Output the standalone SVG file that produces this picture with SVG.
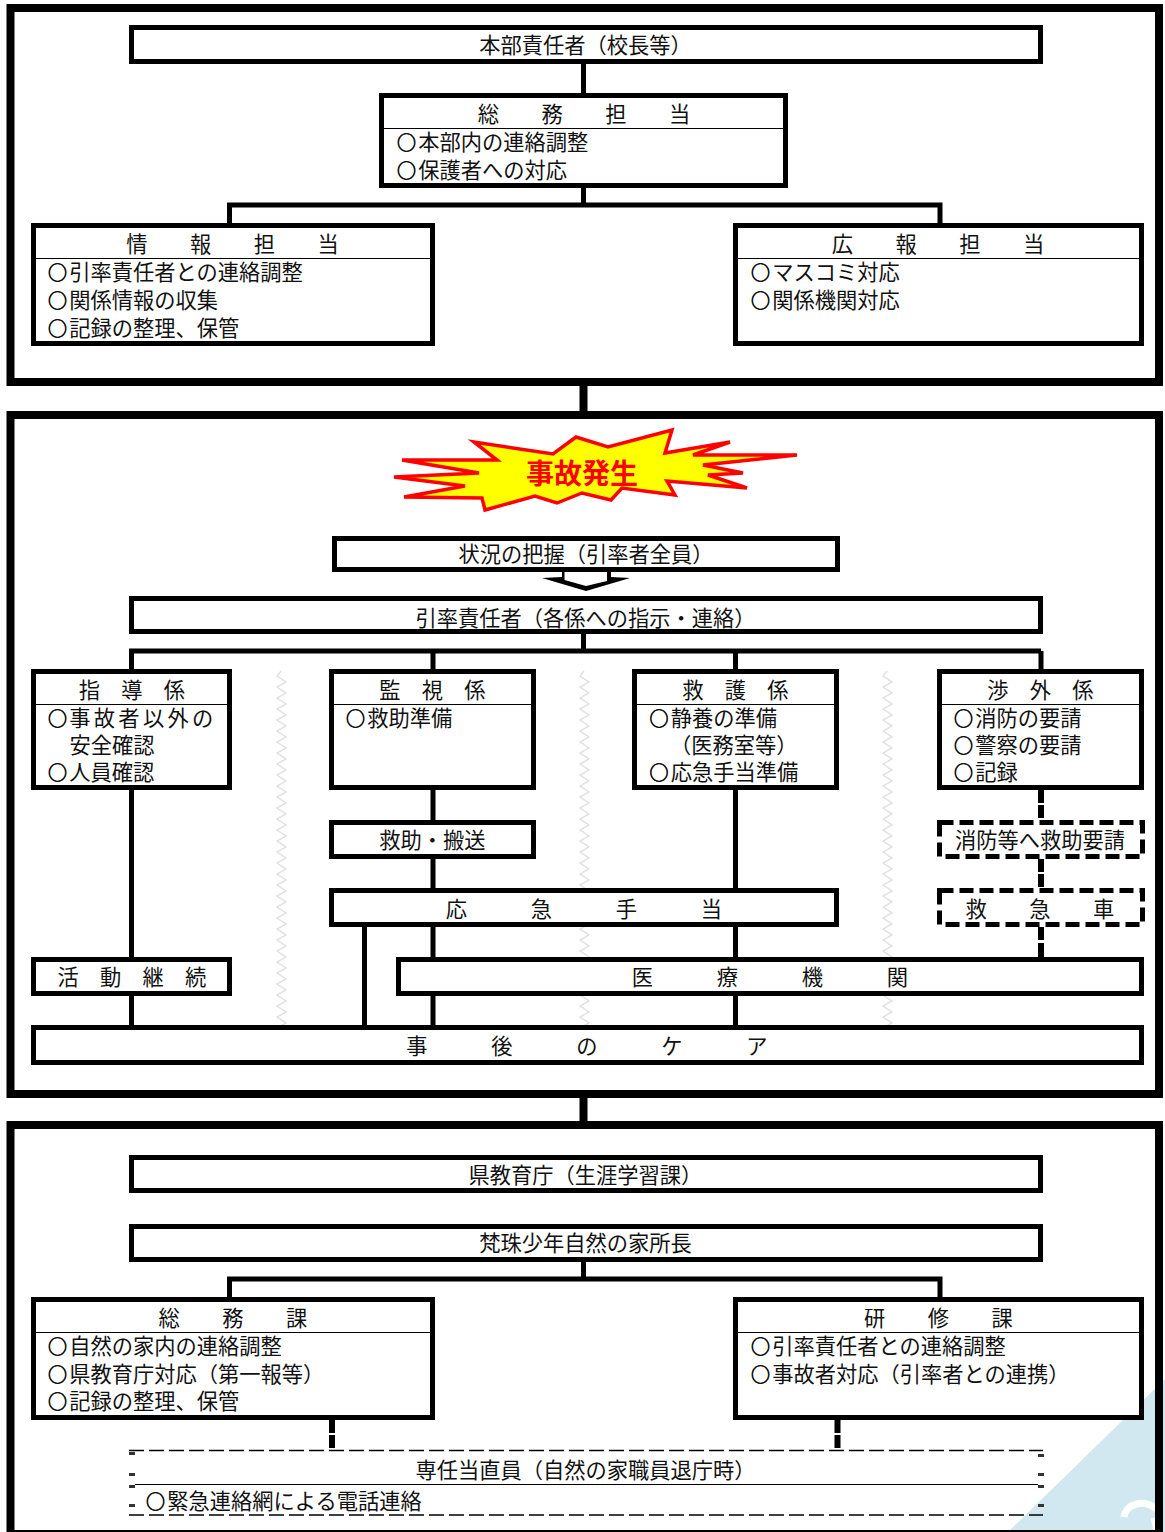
<svg xmlns="http://www.w3.org/2000/svg" width="1165" height="1532" viewBox="0 0 1165 1532">
<style>
text{font-family:"Noto Sans CJK JP","Noto Sans CJK SC",sans-serif;font-size:21.25px;fill:#111}
.m{text-anchor:middle}
.o{font-size:19px;letter-spacing:2.25px;stroke:#111;stroke-width:.7}
.f{fill:none;stroke:#000;stroke-width:8}
.b{fill:#fff;stroke:#000;stroke-width:5}
.d{fill:#fff;stroke:#000;stroke-width:5;stroke-dasharray:14 6}
.h{stroke:#000;stroke-width:1.2}
.c{fill:none;stroke:#000;stroke-width:5}
.cd{fill:none;stroke:#000;stroke-width:6;stroke-dasharray:13 2}
.z{fill:none;stroke:#e2e2e2;stroke-width:1.5}
.t{fill:none;stroke:#000;stroke-width:1.6;stroke-dasharray:15 5}
.k{fill:#333}
</style>
<defs>
<clipPath id="zc"><rect x="270" y="670" width="630" height="355"/></clipPath>
<path id="zz" class="z" d="M0 0l-4 5 9 6-9 5 9 6-9 5 9 6-9 5 9 6-9 5 9 6-9 5 9 6-9 5 9 6-9 5 9 6-9 5 9 6-9 5 9 6-9 5 9 6-9 5 9 6-9 5 9 6-9 5 9 6-9 5 9 6-9 5 9 6-9 5 9 6-9 5 9 6-9 5 9 6-9 5 9 6-9 5 9 6-9 5 9 6-9 5 9 6-9 5 9 6-9 5 9 6-9 5 9 6-9 5 9 6-9 5 9 6-9 5 9 6-9 5 9 6-9 5 9 6-9 5 9 6-9 5 9 6-9 5 9 6-9 5 9 6-9 5 9 6-9 5 9 6-9 5"/>
</defs>
<rect width="1165" height="1532" fill="#fff"/>
<g id="background">
<polygon points="1165,1379 1165,1532 1008,1532" fill="#d1e8f0"/>
<path d="M1124 1517C1126 1503 1145 1499 1156 1509" fill="none" stroke="#fff" stroke-width="7"/>
<path d="M1153 1518L1156 1530" fill="none" stroke="#fff" stroke-width="5"/>
<g clip-path="url(#zc)"><use href="#zz" x="281" y="671"/><use href="#zz" x="584" y="671"/><use href="#zz" x="887" y="671"/></g>
</g>
<g id="frames">
<rect class="f" x="10.5" y="8" width="1148.500" height="374"/>
<rect class="f" x="10.5" y="415" width="1148.500" height="679"/>
<rect class="f" x="10.5" y="1125" width="1148.500" height="409"/>
</g>
<g id="connectors">
<path class="c" style="stroke-width:8" d="M583.500 385V412M583.500 1097V1122"/>
<path class="c" d="M583.500 62V94M583.500 186V205M229.500 225V205H940V225"/>
<path class="c" d="M583.500 632V651M131.500 671V651H1041M433 651V671M735.500 651V671M1041 651V671"/>
<path class="c" d="M131.500 788V958M131.500 994V1026M433 788V821M433 857V889M433 925V958M433 994V1026M735.500 788V889M735.500 925V958M735.500 994V1026M364.500 925V1026"/>
<path class="cd" d="M1041 790V820M1041 859V888M1041 927V942"/>
<path d="M1041 943V960" fill="none" stroke="#000" stroke-width="6"/>
<path class="c" d="M583.500 1260V1279M229.500 1299V1279H940V1299"/>
<path class="cd" d="M332 1420V1450M837.500 1420V1450"/>
</g>
<g id="n-honbu"><rect class="b" x="131.500" y="27.500" width="909" height="34"/><text class="m" x="585.500" y="53">本部責任者（校長等）</text></g>
<g id="n-somu"><rect class="b" x="381.500" y="95.500" width="404" height="90"/><path class="h" d="M384 128.500H783"/><text class="m" x="584" y="122">総　　務　　担　　当</text><text x="397" y="150"><tspan class="o">○</tspan>本部内の連絡調整</text><text x="397" y="178"><tspan class="o">○</tspan>保護者への対応</text></g>
<g id="n-joho"><rect class="b" x="33.500" y="225.500" width="399" height="118"/><path class="h" d="M36 258.500H430"/><text class="m" x="232.500" y="252">情　　報　　担　　当</text><text x="48" y="280"><tspan class="o">○</tspan>引率責任者との連絡調整</text><text x="48" y="308"><tspan class="o">○</tspan>関係情報の収集</text><text x="48" y="336"><tspan class="o">○</tspan>記録の整理、保管</text></g>
<g id="n-koho"><rect class="b" x="735.500" y="225.500" width="406" height="118"/><path class="h" d="M738 258.500H1139"/><text class="m" x="938" y="252">広　　報　　担　　当</text><text x="751" y="280"><tspan class="o">○</tspan>マスコミ対応</text><text x="751" y="308"><tspan class="o">○</tspan>関係機関対応</text></g>
<g id="n-jiko"><polygon points="394,477 479,473 402,460 497,460 474,442 553,454 576,437 608,447 672,430 665,453 730,442 693,455 797,455 703,465 743,473 708,475 747,488 667,481 675,495 622,488 611,500 582,493 557,503 535,496 485,510 482,498 404,497 465,486" fill="#ff0" stroke="#f00" stroke-width="3.500"/><text class="m" x="582" y="484" style="font-size:28px;font-weight:700;fill:#f00">事故発生</text></g>
<g id="n-jokyo"><rect class="b" x="334.500" y="538.500" width="503" height="31"/><text class="m" x="586" y="562">状況の把握（引率者全員）</text></g>
<polygon points="562,568 562,577 542,578 586,591 630,578 611,577 611,568" fill="#000"/>
<polygon points="564.500,572 564.500,580 586,586 607,581 607,572" fill="#fff"/>
<g id="n-inso"><rect class="b" x="131.500" y="598.500" width="909" height="33"/><text class="m" x="585.500" y="626">引率責任者（各係への指示・連絡）</text></g>
<g id="n-shido"><rect class="b" x="33.500" y="671.500" width="196" height="116"/><path class="h" d="M36 704.500H227"/><text class="m" x="132" y="698">指　導　係</text><text x="48" y="726" style="letter-spacing:3.300px"><tspan class="o">○</tspan>事故者以外の</text><text x="69.500" y="753">安全確認</text><text x="48" y="780"><tspan class="o">○</tspan>人員確認</text></g>
<g id="n-kanshi"><rect class="b" x="331.500" y="671.500" width="202" height="116"/><path class="h" d="M334 704.500H531"/><text class="m" x="432.500" y="698">監　視　係</text><text x="346" y="726"><tspan class="o">○</tspan>救助準備</text></g>
<g id="n-kyugo"><rect class="b" x="634.500" y="671.500" width="202" height="116"/><path class="h" d="M637 704.500H834"/><text class="m" x="735.500" y="698">救　護　係</text><text x="649.500" y="726"><tspan class="o">○</tspan>静養の準備</text><text x="670" y="753">（医務室等）</text><text x="649.500" y="780"><tspan class="o">○</tspan>応急手当準備</text></g>
<g id="n-shogai"><rect class="b" x="939.500" y="671.500" width="202" height="116"/><path class="h" d="M942 704.500H1139"/><text class="m" x="1040.500" y="698">渉　外　係</text><text x="954" y="726"><tspan class="o">○</tspan>消防の要請</text><text x="954" y="753"><tspan class="o">○</tspan>警察の要請</text><text x="954" y="780"><tspan class="o">○</tspan>記録</text></g>
<g id="n-kyujo"><rect class="b" x="331.500" y="822.500" width="202" height="34"/><text class="m" x="432.500" y="848">救助・搬送</text></g>
<g id="n-shobo"><rect class="d" x="939.500" y="822.500" width="203" height="34"/><text class="m" x="1040" y="848">消防等へ救助要請</text></g>
<g id="n-oukyu"><rect class="b" x="331.500" y="890.500" width="505" height="34"/><text class="m" x="584" y="917">応　　　急　　　手　　　当</text></g>
<g id="n-kyukyu"><rect class="d" x="939.500" y="890.500" width="203" height="34"/><text class="m" x="1040" y="917">救　　急　　車</text></g>
<g id="n-katsudo"><rect class="b" x="33.500" y="959.500" width="196" height="34"/><text class="m" x="132" y="985">活　動　継　続</text></g>
<g id="n-iryo"><rect class="b" x="398.500" y="959.500" width="743" height="34"/><text class="m" x="770" y="985">医　　　療　　　機　　　関</text></g>
<g id="n-care"><rect class="b" x="33.500" y="1027.500" width="1108" height="35"/><text class="m" x="587" y="1054">事　　　後　　　の　　　ケ　　　ア</text></g>
<g id="n-ken"><rect class="b" x="131.500" y="1157.500" width="909" height="33"/><text class="m" x="585.500" y="1183">県教育庁（生涯学習課）</text></g>
<g id="n-bonju"><rect class="b" x="131.500" y="1226.500" width="909" height="33"/><text class="m" x="585.500" y="1251">梵珠少年自然の家所長</text></g>
<g id="n-somuka"><rect class="b" x="33.500" y="1299.500" width="399" height="118"/><path class="h" d="M36 1332.500H430"/><text class="m" x="233" y="1326">総　　務　　課</text><text x="48" y="1354"><tspan class="o">○</tspan>自然の家内の連絡調整</text><text x="48" y="1382"><tspan class="o">○</tspan>県教育庁対応（第一報等）</text><text x="48" y="1409"><tspan class="o">○</tspan>記録の整理、保管</text></g>
<g id="n-kenshu"><rect class="b" x="735.500" y="1299.500" width="406" height="118"/><path class="h" d="M738 1332.500H1139"/><text class="m" x="938.500" y="1326">研　　修　　課</text><text x="751" y="1354"><tspan class="o">○</tspan>引率責任者との連絡調整</text><text x="751" y="1382"><tspan class="o">○</tspan>事故者対応（引率者との連携）</text></g>
<g id="n-sennin"><path class="t" d="M129 1450.500H1043M129 1515H1043"/><path class="h" d="M135 1484.500H1038"/>
<path class="k" d="M129 1452h6v3h-6zM129 1473h6v3h-6zM129 1485h6v3h-6zM129 1504h6v3h-6zM1038 1454h6v3h-6zM1038 1473h6v3h-6zM1038 1485h6v3h-6zM1038 1504h6v3h-6z"/>
<text class="m" x="585.500" y="1478">専任当直員（自然の家職員退庁時）</text><text x="146" y="1509"><tspan class="o">○</tspan>緊急連絡網による電話連絡</text></g>
</svg>
